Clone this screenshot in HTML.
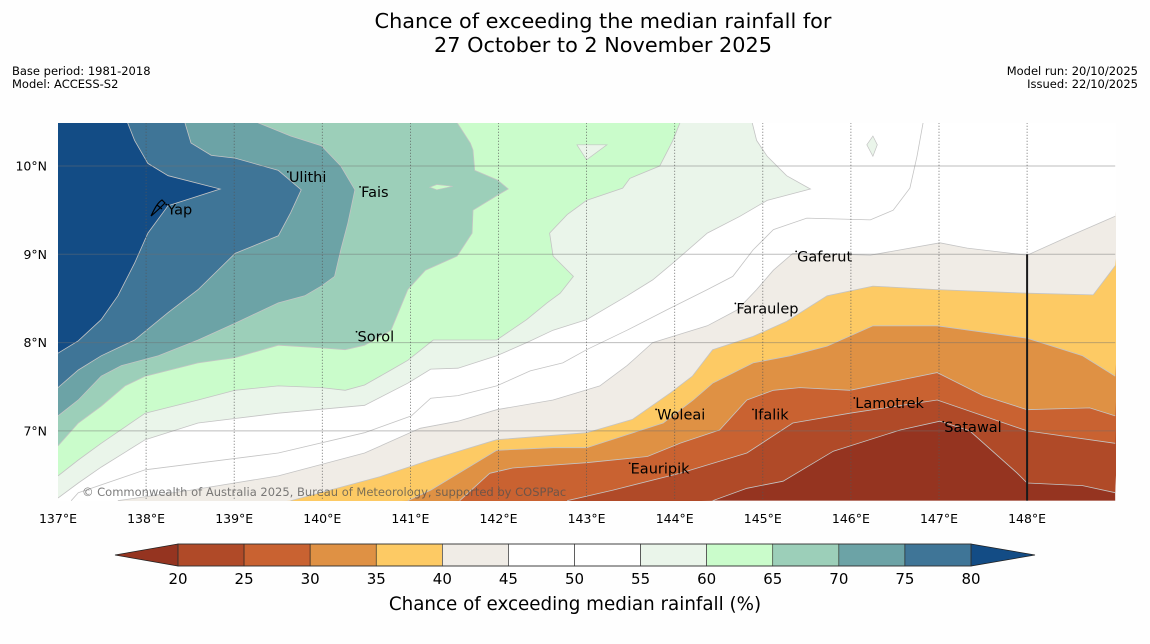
<!DOCTYPE html>
<html><head><meta charset="utf-8"><style>
html,body{margin:0;padding:0;background:#fefefe;}
svg{display:block;font-family:"DejaVu Sans","Liberation Sans",sans-serif;}
</style></head><body>
<svg id="chart" width="1150" height="644" viewBox="0 0 1150 644" xmlns="http://www.w3.org/2000/svg">
<rect x="0" y="0" width="1150" height="644" fill="#fefefe"/>
<text x="603" y="28" font-size="20.8" text-anchor="middle" fill="#000">Chance of exceeding the median rainfall for</text>
<text x="603" y="52" font-size="20.8" text-anchor="middle" fill="#000">27 October to 2 November 2025</text>
<text x="12" y="75" font-size="11.5">Base period: 1981-2018</text>
<text x="12" y="88" font-size="11.5">Model: ACCESS-S2</text>
<text x="1138" y="75" font-size="11.5" text-anchor="end">Model run: 20/10/2025</text>
<text x="1138" y="88" font-size="11.5" text-anchor="end">Issued: 22/10/2025</text>
<defs><clipPath id="mapclip"><rect x="58" y="123" width="1058" height="378"/></clipPath></defs>
<g id="map" clip-path="url(#mapclip)"></g>
<g id="overlay"></g>
<g id="axes"></g>
<g id="cbar"></g>
<text x="575" y="610" font-size="18.3" text-anchor="middle">Chance of exceeding median rainfall (%)</text>
</svg>
<script>
const levels=[20,25,30,35,40,45,50,55,60,65,70,75,80];
const bandColors=["#953420","#b04a28","#c96231","#df9144","#fdca64","#f0ece6","#ffffff","#ffffff","#eaf5ea","#cafccb","#9ccfb9","#6ca3a6","#3f7597","#134c85"];
const lonTicks=[137,138,139,140,141,142,143,144,145,146,147,148];
const latTicks=[7,8,9,10];
const cbarTicks=[20,25,30,35,40,45,50,55,60,65,70,75,80];
const b20=[[144.43,6.21],[144.82,6.35],[145.23,6.43],[145.80,6.77],[146.56,7.01],[147.01,7.11],[147.35,7.00],[147.89,6.52],[148.00,6.41],[148.63,6.38],[149,6.30]];
const b25=[[142.78,6.21],[143.30,6.33],[144.06,6.52],[144.82,6.75],[145.34,7.09],[145.99,7.20],[146.98,7.35],[148.00,7.00],[149,6.86]];
const b30=[[141.56,6.21],[141.90,6.52],[142.16,6.58],[143.00,6.64],[143.69,6.71],[144.06,6.86],[144.51,7.01],[144.82,7.35],[145.12,7.46],[145.42,7.49],[145.99,7.46],[146.98,7.66],[147.50,7.40],[148.00,7.24],[148.71,7.26],[149,7.17]];
const b35=[[140.97,6.21],[141.23,6.33],[141.98,6.78],[142.62,6.81],[143.00,6.81],[143.87,7.09],[144.21,7.35],[144.43,7.54],[144.89,7.77],[145.31,7.85],[145.73,7.96],[146.25,8.19],[146.98,8.19],[148.00,8.05],[148.63,7.85],[149,7.62]];
const b40=[[139.64,6.21],[140.65,6.48],[141.22,6.67],[141.98,6.90],[143.00,6.98],[143.52,7.13],[143.95,7.43],[144.20,7.62],[144.43,7.92],[144.89,8.07],[145.27,8.24],[145.73,8.53],[146.25,8.64],[146.98,8.60],[148.00,8.56],[148.75,8.54],[149,8.87]];
const b45=[[137.68,6.21],[138.51,6.33],[139.50,6.49],[140.48,6.75],[141.11,7.03],[141.54,7.11],[141.98,7.24],[142.62,7.35],[143.15,7.51],[143.46,7.74],[143.75,8.00],[144.37,8.19],[144.71,8.37],[144.93,8.60],[145.12,8.82],[145.34,9.01],[145.62,9.01],[146.22,8.99],[146.56,9.05],[147.01,9.13],[147.32,9.07],[148.00,8.99],[148.49,9.21],[149,9.43]];
const b50=[[137.15,6.21],[137.23,6.30],[137.99,6.56],[139.50,6.75],[140.48,6.98],[141.01,7.17],[141.23,7.37],[141.54,7.40],[141.98,7.51],[142.36,7.68],[142.73,7.77],[143.00,7.92],[143.46,8.14],[143.91,8.37],[144.37,8.60],[144.66,8.75],[144.89,9.05],[145.12,9.28],[145.50,9.41],[146.22,9.39],[146.48,9.50],[146.67,9.75],[146.75,10.11],[146.82,10.49]];
const b55=[[137,6.24],[137.23,6.41],[137.49,6.59],[137.99,6.90],[138.59,7.09],[139.50,7.20],[140.48,7.29],[140.97,7.54],[141.23,7.70],[141.54,7.71],[141.98,7.85],[142.32,8.00],[142.62,8.14],[143.00,8.26],[143.46,8.53],[143.75,8.71],[143.98,8.90],[144.37,9.24],[144.74,9.43],[145.05,9.61],[145.54,9.74],[145.27,9.89],[145.05,10.11],[144.93,10.29],[144.88,10.49]];
const b60=[[137,6.49],[137.23,6.67],[137.49,6.86],[137.99,7.20],[138.59,7.35],[139.01,7.46],[139.50,7.51],[139.99,7.49],[140.26,7.46],[140.48,7.52],[140.78,7.69],[140.97,7.80],[141.26,8.03],[141.98,8.03],[142.32,8.26],[142.55,8.45],[142.70,8.56],[142.85,8.75],[142.62,8.98],[142.58,9.24],[142.78,9.45],[143.00,9.61],[143.41,9.75],[143.49,9.86],[143.83,10.00],[143.98,10.29],[144.06,10.49]];
const b65=[[137,6.83],[137.23,7.09],[137.49,7.28],[137.76,7.51],[137.99,7.62],[138.59,7.77],[139.01,7.83],[139.50,7.97],[139.99,7.94],[140.26,7.92],[140.48,7.97],[140.78,8.14],[140.97,8.60],[141.17,8.82],[141.53,8.98],[141.70,9.24],[141.71,9.50],[141.99,9.67],[142.11,9.74],[141.99,9.84],[141.73,9.95],[141.71,10.18],[141.68,10.26],[141.53,10.49]];
const b70=[[137,7.17],[137.23,7.35],[137.49,7.62],[137.72,7.74],[138.14,7.85],[138.59,8.03],[139.01,8.22],[139.50,8.45],[139.80,8.53],[139.99,8.64],[140.14,8.75],[140.21,9.05],[140.29,9.35],[140.37,9.73],[140.21,10.00],[139.99,10.23],[139.64,10.34],[139.27,10.49]];
const b75=[[137,7.49],[137.23,7.69],[137.49,7.85],[137.87,8.03],[138.25,8.34],[138.59,8.60],[139.01,9.01],[139.50,9.21],[139.64,9.47],[139.76,9.73],[139.50,9.95],[139.01,10.09],[138.74,10.12],[138.51,10.26],[138.44,10.49]];
const b80=[[137,7.88],[137.23,8.02],[137.49,8.26],[137.68,8.53],[137.87,8.90],[138.02,9.24],[138.25,9.55],[138.84,9.74],[138.25,9.89],[138.02,10.03],[137.87,10.29],[137.79,10.49]];
const boundaries=[b20,b25,b30,b35,b40,b45,b50,b55,b60,b65,b70,b75,b80];
const island65=[[141.22,9.76],[141.30,9.79],[141.48,9.77],[141.30,9.73]];
const island55a=[[142.89,10.24],[143.23,10.24],[143.00,10.07]];
const island55b=[[146.18,10.24],[146.25,10.34],[146.30,10.24],[146.25,10.11]];
const places=["Ulithi","Fais","Yap","Sorol","Gaferut","Faraulep","Woleai","Ifalik","Eauripik","Lamotrek","Satawal"];
const placeLon=[139.62,140.44,138.24,140.40,145.39,144.70,143.80,144.90,143.50,146.05,147.06];
const placeLat=[9.82,9.65,9.45,8.01,8.92,8.33,7.13,7.13,6.52,7.26,6.99];

const NS="http://www.w3.org/2000/svg";
const LON0=137,LON1=149,LAT0=6.21,LAT1=10.49;
function xs(lon){return 58+(lon-137)*88.1;}
function ys(lat){return 166+(10-lat)*88.3;}
function mk(tag,attrs,parent){const e=document.createElementNS(NS,tag);for(const k in attrs)e.setAttribute(k,attrs[k]);parent.appendChild(e);return e;}
function ptsStr(arr){return arr.map(p=>xs(p[0]).toFixed(1)+","+ys(p[1]).toFixed(1)).join(" ");}

const map=document.getElementById("map");
const base=mk("rect",{x:xs(LON0),y:ys(LAT1),width:xs(LON1)-xs(LON0),height:ys(LAT0)-ys(LAT1),fill:bandColors[0]},map);


boundaries.forEach((b,i)=>{
  const poly=b.slice();
  const first=b[0],last=b[b.length-1];
  if(last[0]>=LON1-0.001)poly.push([LON1+0.2,LAT1+0.2]);
  poly.push([LON0-0.2,LAT1+0.2]);
  if(first[1]<=LAT0+0.001)poly.push([LON0-0.2,LAT0-0.2]);
  const pg=mk("polygon",{points:ptsStr(poly),fill:bandColors[i+1]},map);
  
  
});
boundaries.forEach((b,i)=>{
  const pl=mk("polyline",{points:ptsStr(b),fill:"none",stroke:"#c4c4c4","stroke-width":"0.8"},map);
  
  
});
[[island65,bandColors[9]],[island55a,bandColors[8]],[island55b,bandColors[8]]].forEach((d,i)=>{
  const pg=mk("polygon",{points:ptsStr(d[0]),fill:d[1],stroke:"#c4c4c4","stroke-width":"0.7"},map);
  
  
});
latTicks.forEach(t=>{
  const l=mk("line",{x1:xs(LON0),x2:xs(LON1),y1:ys(t),y2:ys(t),stroke:"rgba(110,110,110,0.45)","stroke-width":"1"},map);
  
  
});
lonTicks.slice(1,11).forEach(t=>{
  const l=mk("line",{x1:xs(t),x2:xs(t),y1:ys(LAT1),y2:ys(LAT0),stroke:"#555","stroke-width":"0.8","stroke-dasharray":"1,2"},map);
  
  
});
const bl=mk("line",{x1:xs(148),x2:xs(148),y1:ys(9),y2:ys(LAT0),stroke:"#1a1a1a","stroke-width":"2"},map);


const bl2=mk("line",{x1:xs(148),x2:xs(148),y1:ys(LAT1),y2:ys(9),stroke:"#555","stroke-width":"0.8","stroke-dasharray":"1,2"},map);


const cp=mk("text",{x:82,y:496,"font-size":"11.5",fill:"rgba(80,80,80,0.75)"},map);
cp.textContent="© Commonwealth of Australia 2025, Bureau of Meteorology, supported by COSPPac";



const ov=document.getElementById("overlay");
places.forEach((n,i)=>{
  const px=xs(placeLon[i]),py=ys(placeLat[i]);
  const d=mk("circle",{cx:px-1,cy:py-10,r:0.9,fill:"#000"},ov);
  
  
  const t=mk("text",{x:px,y:py,"font-size":"14.5",fill:"#000"},ov);
  t.textContent=n;
  
  
});
const yi=mk("path",{d:"M151,216 C154,210 157,203 162,200 L165,203 C161,207 156,212 151,216 M157,205 L162,209",fill:"none",stroke:"#000","stroke-width":"1.2"},ov);



const ax=document.getElementById("axes");
lonTicks.forEach(t=>{
  const e=mk("text",{x:xs(t),y:523,"font-size":"12.5","text-anchor":"middle"},ax);
  e.textContent=t+"°E";
  
  
});
latTicks.forEach(t=>{
  const e=mk("text",{x:47,y:ys(t)+4.5,"font-size":"12.5","text-anchor":"end"},ax);
  e.textContent=t+"°N";
  
  
});

const cb=document.getElementById("cbar");
const cbX0=178,cbX1=971,cbY=544,cbH=22;
function cx(v){return cbX0+(v-20)/60*(cbX1-cbX0);}
const lt=mk("polygon",{points:`${cbX0},${cbY} 115,${cbY+cbH/2} ${cbX0},${cbY+cbH}`,fill:bandColors[0],stroke:"#222","stroke-width":"0.8"},cb);


const rt=mk("polygon",{points:`${cbX1},${cbY} 1035,${cbY+cbH/2} ${cbX1},${cbY+cbH}`,fill:bandColors[13],stroke:"#222","stroke-width":"0.8"},cb);


for(let i=0;i<levels.length-1;i++){
  const r=mk("rect",{x:cx(levels[i]),y:cbY,width:cx(levels[i+1])-cx(levels[i]),height:cbH,fill:bandColors[i+1],stroke:"#222","stroke-width":"0.6"},cb);
  
  
}
const fr=mk("rect",{x:cbX0,y:cbY,width:cbX1-cbX0,height:cbH,fill:"none",stroke:"#333","stroke-width":"0.8"},cb);


cbarTicks.forEach(t=>{
  const e=mk("text",{x:cx(t),y:584,"font-size":"15","text-anchor":"middle"},cb);
  e.textContent=t;
  
  
});
</script>
</body></html>
